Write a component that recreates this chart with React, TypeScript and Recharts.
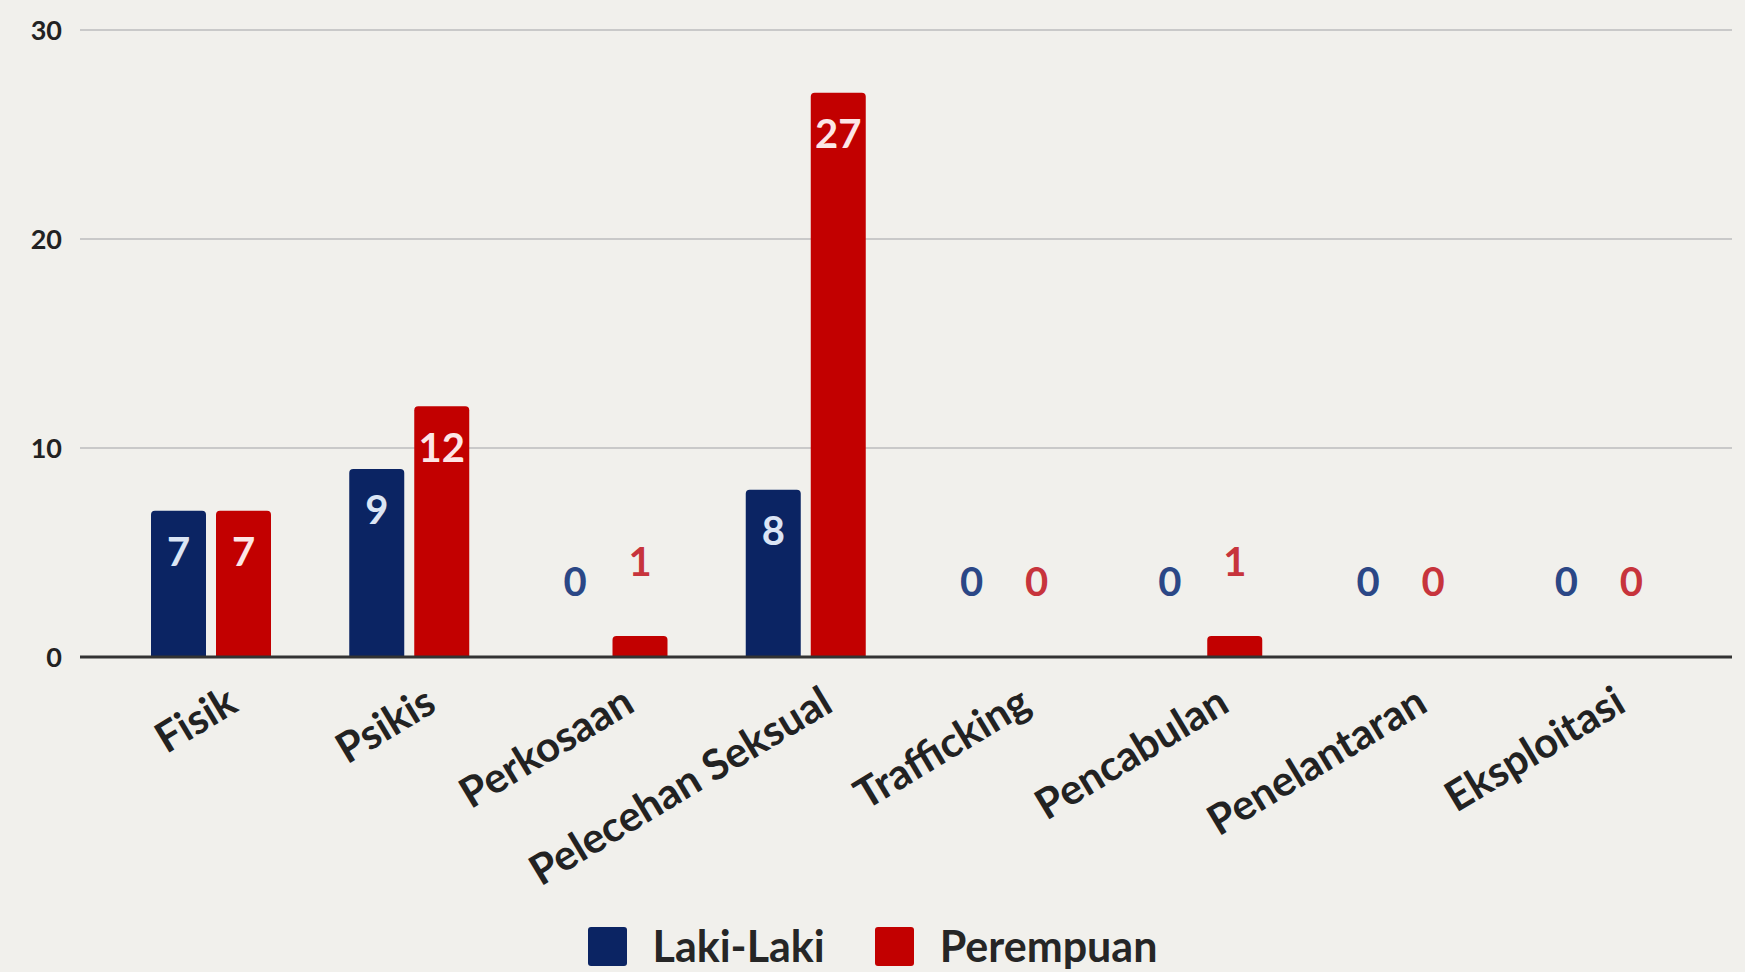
import React from 'react';
import { BarChart, Bar, XAxis, YAxis, CartesianGrid, LabelList, Legend } from 'recharts';

const categories = ['Fisik', 'Psikis', 'Perkosaan', 'Pelecehan Seksual', 'Trafficking', 'Pencabulan', 'Penelantaran', 'Eksploitasi'];
const lakiLaki = [7, 9, 0, 8, 0, 0, 0, 0];
const perempuan = [7, 12, 1, 27, 0, 1, 0, 0];
const yTicks = [0, 10, 20, 30];

const data = categories.map((c, i) => ({ name: c, laki: lakiLaki[i], perempuan: perempuan[i] }));

const BLUE = '#0b2463';
const RED = '#c20000';
const FONT = 'Lato, "Open Sans", sans-serif';

const makeLabel = (inColor: string, outColor: string) => (props: any) => {
  const { x, y, width, height, value } = props;
  const cx = Number(x) + Number(width) / 2;
  const inside = Number(height) > 60;
  const top = Number(y);
  const cy = inside ? top + 41 : top - 75;
  return (
    <text
      x={cx}
      y={cy}
      dy="0.36em"
      textAnchor="middle"
      fontFamily={FONT}
      fontWeight={700}
      fontSize={40}
      fill={inside ? inColor : outColor}
    >
      {value}
    </text>
  );
};

const XTick = (props: any) => {
  const { x, y, payload } = props;
  const ax = Number(x) + 29;
  const ay = Number(y) + 45;
  return (
    <text
      x={ax}
      y={ay}
      textAnchor="end"
      fontFamily={FONT}
      fontWeight={700}
      fontSize={42}
      fill="#222"
      transform={`rotate(-31, ${ax}, ${ay})`}
    >
      {payload.value}
    </text>
  );
};

const renderLegend = (props: any) => {
  const { payload } = props;
  return (
    <div style={{ display: 'flex', justifyContent: 'center', alignItems: 'center', width: 1745 }}>
      {(payload || []).map((p: any, i: number) => (
        <div key={i} style={{ display: 'flex', alignItems: 'center', marginRight: i === 0 ? 50 : 0 }}>
          <div style={{ width: 39, height: 39, background: p.color, borderRadius: 3, marginRight: 26 }} />
          <span style={{ fontFamily: FONT, fontWeight: 700, fontSize: 43, color: '#262626', lineHeight: '40px' }}>{p.value}</span>
        </div>
      ))}
    </div>
  );
};

export default function App() {
  return (
    <div style={{ position: 'absolute', left: 0, top: 0, width: 1745, height: 972, background: '#f1f0ec' }}>
      <BarChart
        width={1745}
        height={972}
        data={data}
        margin={{ top: 30, right: 13, left: 0, bottom: 115 }}
        barSize={55}
        barGap={10}
      >
        <CartesianGrid vertical={false} stroke="#c9c9c9" strokeWidth={2} />
        <XAxis
          dataKey="name"
          interval={0}
          height={200}
          tickLine={false}
          axisLine={{ stroke: '#333', strokeWidth: 3 }}
          padding={{ left: 32, right: 34 }}
          tick={<XTick />}
        />
        <YAxis
          width={80}
          domain={[0, 30]}
          ticks={yTicks}
          axisLine={false}
          tickLine={false}
          tickMargin={12}
          tick={{ fontSize: 27, fontWeight: 700, fill: '#222', fontFamily: FONT }}
        />
        <Legend
          layout="horizontal"
          verticalAlign="middle"
          align="center"
          wrapperStyle={{ top: 926, left: 0, width: 1745 }}
          content={renderLegend}
        />
        <Bar dataKey="laki" name="Laki-Laki" fill={BLUE} radius={[4, 4, 0, 0]} minPointSize={0.01} isAnimationActive={false}>
          <LabelList dataKey="laki" content={makeLabel('#dbe5f5', '#2b4786')} />
        </Bar>
        <Bar dataKey="perempuan" name="Perempuan" fill={RED} radius={[4, 4, 0, 0]} minPointSize={0.01} isAnimationActive={false}>
          <LabelList dataKey="perempuan" content={makeLabel('#fde6e6', '#c7343c')} />
        </Bar>
      </BarChart>
    </div>
  );
}
